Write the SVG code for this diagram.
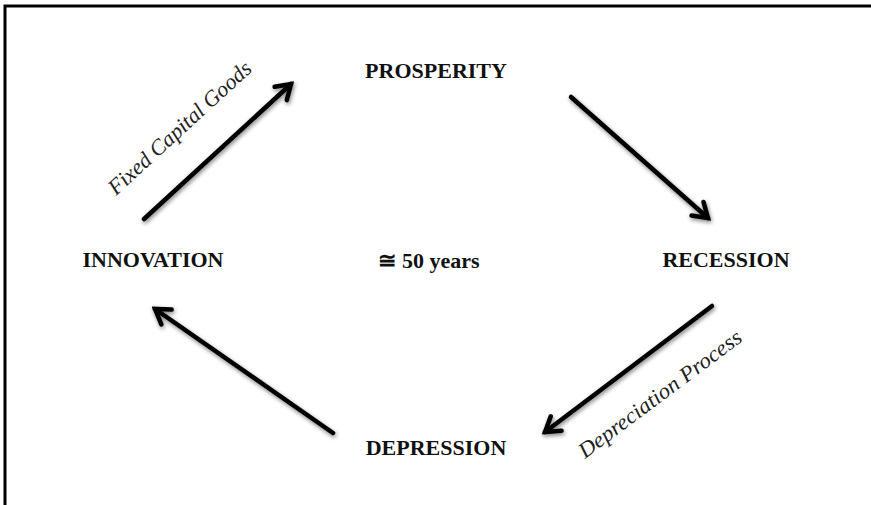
<svg xmlns="http://www.w3.org/2000/svg" width="871" height="505" viewBox="0 0 871 505">
<style>
.lbl{font-family:"Liberation Serif","Times New Roman",serif;font-weight:bold;font-size:22px;fill:#111;text-anchor:middle}
.it{font-family:"Liberation Serif","Times New Roman",serif;font-style:italic;font-size:22px;fill:#222}
.arr{stroke:#000;stroke-width:4.5;fill:none;stroke-linecap:round;marker-end:url(#head);filter:url(#sh)}
</style>
<defs>
<marker id="head" viewBox="-20 -12 24 24" refX="0" refY="0" markerWidth="24" markerHeight="24" markerUnits="userSpaceOnUse" orient="auto">
<path d="M-14,-9 L0,0 L-14,9" fill="none" stroke="#000" stroke-width="4.5" stroke-linecap="round" stroke-linejoin="miter"/>
</marker>
<filter id="sh" x="-20%" y="-20%" width="140%" height="140%">
<feGaussianBlur in="SourceAlpha" stdDeviation="2"/>
<feOffset dx="1" dy="2" result="b"/>
<feComponentTransfer><feFuncA type="linear" slope="0.5"/></feComponentTransfer>
<feMerge><feMergeNode/><feMergeNode in="SourceGraphic"/></feMerge>
</filter>
</defs>
<rect width="871" height="505" fill="#fff"/>
<path d="M5,505 L5,6 L871,6" fill="none" stroke="#000" stroke-width="3"/>
<g id="prosperity"><text class="lbl" x="436" y="78">PROSPERITY</text></g>
<g id="recession"><text class="lbl" x="726" y="267">RECESSION</text></g>
<g id="depression"><text class="lbl" x="436" y="455">DEPRESSION</text></g>
<g id="innovation"><text class="lbl" x="153" y="267">INNOVATION</text></g>
<g id="center"><text class="lbl" x="429" y="268">≅ 50 years</text></g>
<g id="connectors">
<line class="arr" x1="144" y1="219" x2="291" y2="84"/>
<line class="arr" x1="571" y1="97" x2="708" y2="218"/>
<line class="arr" x1="712" y1="306" x2="545" y2="432"/>
<line class="arr" x1="333" y1="433" x2="155" y2="309"/>
<text class="it" transform="translate(116,196) rotate(-42.5)" textLength="186" lengthAdjust="spacingAndGlyphs">Fixed Capital Goods</text>
<text class="it" transform="translate(585,459) rotate(-36.8)" textLength="198" lengthAdjust="spacingAndGlyphs">Depreciation Process</text>
</g>
</svg>
